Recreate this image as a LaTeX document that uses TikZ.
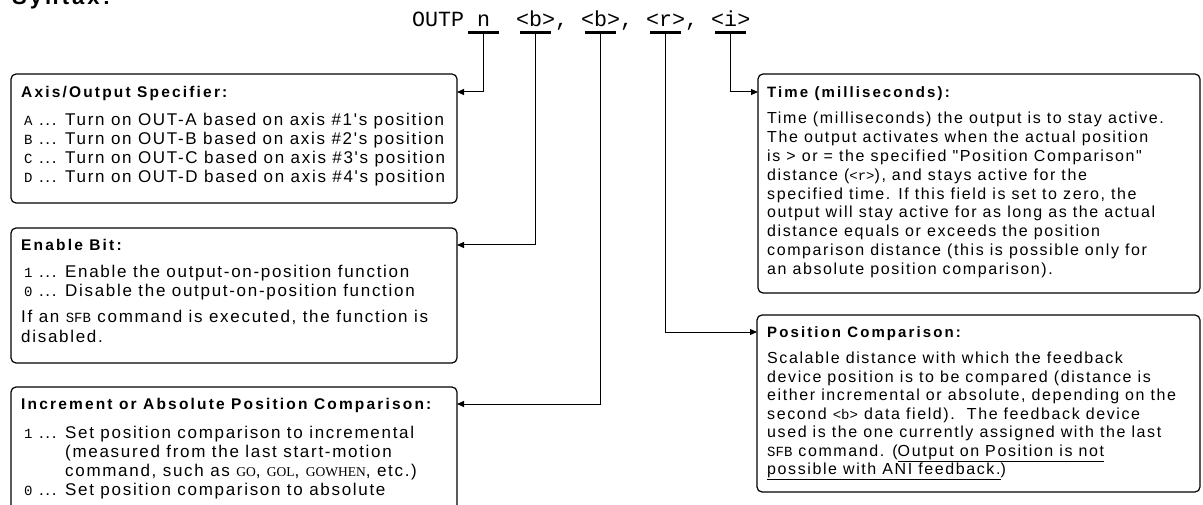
\documentclass[tikz,border=0pt]{standalone}
\usepackage{fontspec}
\usetikzlibrary{arrows.meta}
\newfontfamily\bodyf{Liberation Sans}[LetterSpace=10]
\newfontfamily\headf{Liberation Sans}[LetterSpace=14]
\newfontfamily\monof{Liberation Mono}
\newfontfamily\serf{Liberation Serif}
\newcommand\kc[1]{{\monof\fontsize{14}{19}\selectfont #1}}
\newcommand\sv[1]{{\serf\fontsize{13.5}{19}\selectfont #1}}
\begin{document}
\begin{tikzpicture}[x=1pt,y=-1pt,
  boxs/.style={draw, line width=1.2pt, rounded corners=5pt, anchor=north west, inner sep=0pt, outer sep=0pt},
  headt/.style={anchor=base west, inner sep=0pt, font=\headf\bfseries\fontsize{15}{18}\selectfont},
  headl/.style={headt, font=\headf\bfseries\fontsize{15.5}{18}\selectfont},
  bodyt/.style={anchor=base west, inner sep=0pt, font=\bodyf\fontsize{16}{19}\selectfont},
  bodyl/.style={bodyt, font=\bodyf\fontsize{17}{19}\selectfont},
  cmdt/.style={anchor=base west, inner sep=0pt, font=\monof\fontsize{21.67}{24}\selectfont},
  ulin/.style={line width=3pt},
  conn/.style={line width=1pt, -{Triangle[length=7pt,width=6pt]}}]
\useasboundingbox (0,0) rectangle (1203,505);
\clip (0,0) rectangle (1203,505);

% title and command line
\node[anchor=base west, inner sep=0pt, font=\headf\bfseries\fontsize{22}{24}\selectfont] (syn) at (12,5) {Syntax:};
\node[cmdt] (cmd) at (412,27) {OUTP n\ \ <b>, <b>, <r>, <i>};
\coordinate (un) at (483.5,33);
\coordinate (ub1) at (535.5,33);
\coordinate (ub2) at (600.5,33);
\coordinate (ur) at (665.5,33);
\coordinate (ui) at (730.5,33);
\foreach \c in {un,ub1,ub2,ur,ui}
  \draw[ulin] ([xshift=-15.5pt]\c) -- ([xshift=15.5pt]\c);

% boxes
\node[boxs, minimum width=446pt, minimum height=129pt] (box1) at (11,74) {};
\node[boxs, minimum width=446pt, minimum height=135pt] (box2) at (11,228) {};
\node[boxs, minimum width=446pt, minimum height=150pt] (box3) at (11,387) {};
\node[boxs, minimum width=442pt, minimum height=219pt] (time) at (758,74) {};
\node[boxs, minimum width=443pt, minimum height=177pt] (pos) at (757,315) {};

% box 1
\node[headl] (h1) at (21,97.5) {Axis/Output Specifier:};
\node[bodyl] (a0) at (24,126) {\kc{A} ... Turn on OUT-A based on axis \#1's position};
\node[bodyl] (a1) at (24,145) {\kc{B} ... Turn on OUT-B based on axis \#2's position};
\node[bodyl] (a2) at (24,164) {\kc{C} ... Turn on OUT-C based on axis \#3's position};
\node[bodyl] (a3) at (24,183) {\kc{D} ... Turn on OUT-D based on axis \#4's position};

% box 2
\node[headl] (h2) at (21,250.5) {Enable Bit:};
\node[bodyl] (e0) at (24,278) {\kc{1} ... Enable the output-on-position function};
\node[bodyl] (e1) at (24,297) {\kc{0} ... Disable the output-on-position function};
\node[bodyl] (e2) at (21,323) {If an \kc{SFB} command is executed, the function is};
\node[bodyl] (e3) at (21,342) {disabled.};

% box 3
\node[headl] (h3) at (21,409.5) {Increment or Absolute Position Comparison:};
\node[bodyl] (c0) at (24,438) {\kc{1} ... Set position comparison to incremental};
\node[bodyl] (c1) at (24,457) {\phantom{\kc{1} ... }(measured from the last start-motion};
\node[bodyl] (c2) at (24,476) {\phantom{\kc{1} ... }command, such as \sv{GO}, \sv{GOL}, \sv{GOWHEN}, etc.)};
\node[bodyl] (c3) at (24,495) {\kc{0} ... Set position comparison to absolute};

% time box
\node[headt] (h4) at (767,97.5) {Time (milliseconds):};
\node[bodyt] (t0) at (767,123.5) {Time (milliseconds) the output is to stay active.};
\node[bodyt] (t1) at (767,142.4) {The output activates when the actual position};
\node[bodyt] (t2) at (767,161.3) {is > or = the specified "Position Comparison"};
\node[bodyt] (t3) at (767,180.2) {distance (\kc{<r>}), and stays active for the};
\node[bodyt] (t4) at (767,199.1) {specified time. If this field is set to zero, the};
\node[bodyt] (t5) at (767,218.0) {output will stay active for as long as the actual};
\node[bodyt] (t6) at (767,236.9) {distance equals or exceeds the position};
\node[bodyt] (t7) at (767,255.8) {comparison distance (this is possible only for};
\node[bodyt] (t8) at (767,274.7) {an absolute position comparison).};

% position box
\node[headt] (h5) at (767,337.5) {Position Comparison:};
\node[bodyt] (p0) at (767,363.5) {Scalable distance with which the feedback};
\node[bodyt] (p1) at (767,382.0) {device position is to be compared (distance is};
\node[bodyt] (p2) at (767,400.5) {either incremental or absolute, depending on the};
\node[bodyt] (p3) at (767,419.0) {second \kc{<b>} data field).\ \ The feedback device};
\node[bodyt] (p4) at (767,437.5) {used is the one currently assigned with the last};
\node[bodyt] (p5) at (767,456.0) {\kc{SFB} command. (\underline{Output on Position is not}};
\node[bodyt] (p6) at (767,474.5) {\underline{possible with ANI feedback.})};

% connectors
\draw[conn] (un) |- ([yshift=-18pt]box1.north east);
\draw[conn] (ui) |- ([yshift=-18pt]time.north west);
\draw[conn] (ub1) |- ([yshift=-17pt]box2.north east);
\draw[conn] (ub2) |- ([yshift=-17pt]box3.north east);
\draw[conn] (ur) |- ([yshift=-17pt]pos.north west);
\end{tikzpicture}
\end{document}
